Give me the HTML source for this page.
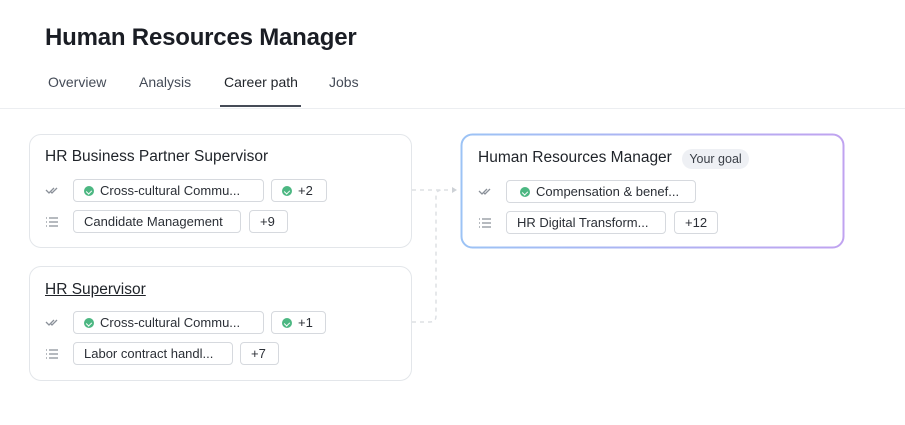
<!DOCTYPE html>
<html><head><meta charset="utf-8"><style>
*{box-sizing:border-box;margin:0;padding:0}
body{width:905px;height:425px;background:#fff;font-family:"Liberation Sans",sans-serif;color:#1f2329;position:relative;overflow:hidden}
.a{position:absolute}
h1{position:absolute;left:45px;top:24px;font-size:24px;font-weight:700;color:#1a1d24;letter-spacing:-0.2px}
.tab{position:absolute;top:74px;font-size:14px;color:#444b57}
.card{position:absolute;border:1px solid #e3e6ea;border-radius:12px;background:#fff}
.title{position:absolute;font-size:15.5px;color:#1f2329;white-space:nowrap}
.chip{position:absolute;height:23px;border:1px solid #d6d9de;border-radius:4px;font-size:13px;line-height:21px;color:#2b2f36;padding-left:10px;white-space:nowrap}
.dot{display:inline-block;width:10px;height:10px;border-radius:50%;background:#4cb782;margin-right:6px;vertical-align:-1px;position:relative}
.dot:after{content:"";position:absolute;left:3px;top:2.5px;width:3px;height:4px;border:solid #fff;border-width:0 1.3px 1.3px 0;transform:rotate(45deg)}
</style></head><body>
<h1>Human Resources Manager</h1>
<div class="tab" style="left:48px">Overview</div>
<div class="tab" style="left:139px">Analysis</div>
<div class="tab" style="left:224px;color:#1f2329">Career path</div>
<div class="tab" style="left:329px">Jobs</div>
<div class="a" style="left:220px;top:105px;width:81px;height:2px;background:#454b57"></div>
<div class="a" style="left:0;top:108px;width:905px;height:1px;background:#eceef1"></div>

<div class="card" style="left:29px;top:134px;width:383px;height:114px"></div>
<div class="card" style="left:29px;top:266px;width:383px;height:115px"></div>

<svg class="a" style="left:0;top:0" width="905" height="425">
<path d="M412 190 H452" stroke="#dde0e4" stroke-width="1.5" stroke-dasharray="4 4" fill="none"/>
<path d="M452 187 L457 190 L452 193 Z" fill="#cdd1d6"/>
<path d="M412 322 H430 Q436 322 436 316 V196 Q436 190 442 190" stroke="#dde0e4" stroke-width="1.5" stroke-dasharray="4 4" fill="none"/>
<defs><linearGradient id="g" x1="0" x2="1"><stop offset="0" stop-color="#9cc3f5"/><stop offset="1" stop-color="#c0a3f0"/></linearGradient></defs>
<rect x="461.5" y="134.5" width="382" height="113" rx="11" fill="#fff" stroke="url(#g)" stroke-width="2"/>
<g stroke="#8a9099" stroke-width="1.3" fill="none">
<path d="M46 190 l3 3 l5 -5 M51 192 l1 1 l5 -5"/>
<path d="M46 322 l3 3 l5 -5 M51 324 l1 1 l5 -5"/>
<path d="M479 191 l3 3 l5 -5 M484 193 l1 1 l5 -5"/>
<path d="M49 218h9M49 222h9M49 226h9M49 350h9M49 354h9M49 358h9M482 219h9M482 223h9M482 227h9"/>
<path d="M46 218h1M46 222h1M46 226h1M46 350h1M46 354h1M46 358h1M479 219h1M479 223h1M479 227h1"/>
</g>
</svg>

<div class="title" style="left:45px;top:148px">HR Business Partner Supervisor</div>
<div class="chip" style="left:73px;top:179px;width:191px"><span class="dot"></span>Cross-cultural Commu...</div>
<div class="chip" style="left:271px;top:179px;width:56px"><span class="dot"></span>+2</div>
<div class="chip" style="left:73px;top:210px;width:168px">Candidate Management</div>
<div class="chip" style="left:249px;top:210px;width:39px">+9</div>

<div class="title" style="left:45px;top:281px;text-decoration:underline">HR Supervisor</div>
<div class="chip" style="left:73px;top:311px;width:191px"><span class="dot"></span>Cross-cultural Commu...</div>
<div class="chip" style="left:271px;top:311px;width:55px"><span class="dot"></span>+1</div>
<div class="chip" style="left:73px;top:342px;width:160px">Labor contract handl...</div>
<div class="chip" style="left:240px;top:342px;width:39px">+7</div>

<div class="title" style="left:478px;top:149px">Human Resources Manager</div>
<div class="a" style="left:682px;top:149px;width:67px;height:20px;border-radius:10px;background:#eef0f4;font-size:12.5px;line-height:20px;text-align:center;color:#3a3f47">Your goal</div>
<div class="chip" style="left:506px;top:180px;width:190px;padding-left:13px"><span class="dot"></span>Compensation &amp; benef...</div>
<div class="chip" style="left:506px;top:211px;width:160px">HR Digital Transform...</div>
<div class="chip" style="left:674px;top:211px;width:44px">+12</div>
</body></html>
